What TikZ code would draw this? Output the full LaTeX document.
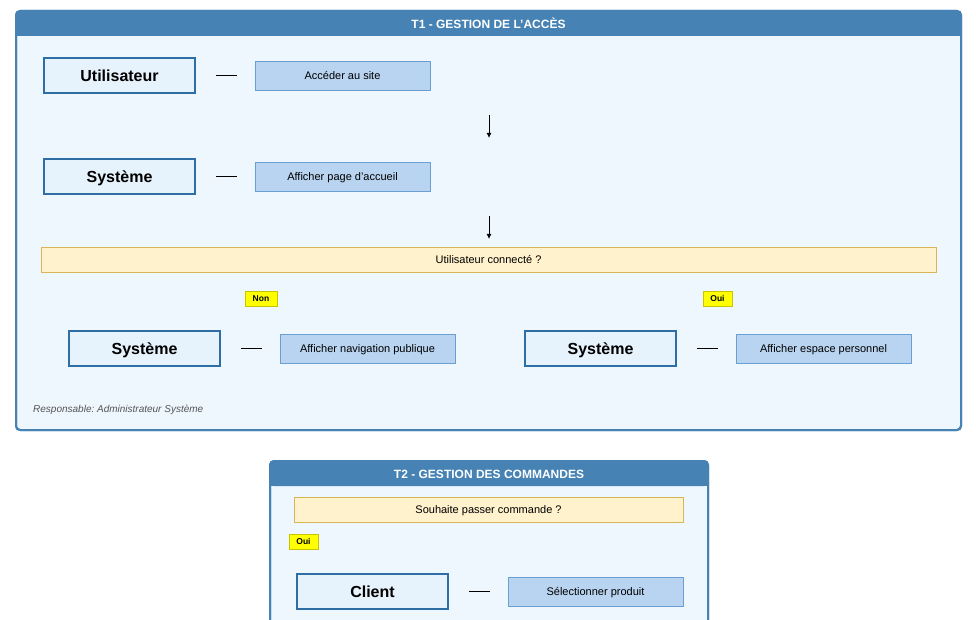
\documentclass[tikz,border=0pt]{standalone}
\usepackage{fontspec}
\setmainfont{Liberation Sans}
\usetikzlibrary{arrows.meta,calc}
\frenchspacing

\definecolor{hdr}{HTML}{4682B4}
\definecolor{panelbg}{HTML}{EEF6FE}
\definecolor{actorfill}{HTML}{E6F2FC}
\definecolor{actorline}{HTML}{2F6EA5}
\definecolor{actfill}{HTML}{B8D4F0}
\definecolor{actline}{HTML}{6A9FD2}
\definecolor{decfill}{HTML}{FFF2CC}
\definecolor{decline}{HTML}{D6B656}
\definecolor{tagfill}{HTML}{FFFF00}
\definecolor{tagline}{HTML}{C8C400}
\definecolor{note}{HTML}{555555}

\tikzset{
  panel/.style={fill=panelbg, draw=hdr, line width=2pt, rounded corners=4pt},
  paneltitle/.style={text=white, font=\bfseries\fontsize{12}{14}\selectfont, inner sep=0pt,
    text height=8.6pt, text depth=0pt},
  actor/.style={draw=actorline, line width=2pt, fill=actorfill, minimum width=151pt,
    minimum height=35pt, inner sep=0pt, text height=11.5pt, text depth=0pt,
    font=\bfseries\fontsize{16}{19}\selectfont},
  action/.style={draw=actline, line width=0.8pt, fill=actfill, minimum width=175pt,
    minimum height=29pt, inner sep=0pt, text height=7.2pt, text depth=0pt,
    font=\fontsize{11}{13}\selectfont},
  decision/.style={draw=decline, line width=0.8pt, fill=decfill, minimum height=25pt,
    inner sep=0pt, text height=7.2pt, text depth=0pt, font=\fontsize{11}{13}\selectfont},
  tag/.style={draw=tagline, line width=0.8pt, fill=tagfill, minimum height=15pt,
    inner sep=0pt, text height=6.1pt, text depth=0pt, font=\bfseries\fontsize{8.5}{10}\selectfont},
  link/.style={line width=0.9pt},
  flow/.style={line width=0.9pt, -{Latex[length=5pt,width=5pt]}},
}

\begin{document}
\begin{tikzpicture}[x=1pt,y=-1pt]
\useasboundingbox (0,0) rectangle (976,620);
\clip (0,0) rectangle (976,620);

% ---------- T1 panel ----------
\draw[panel] (16,11) rectangle (961,430);
\fill[hdr, rounded corners=4pt] (16,11) rectangle (961,36);
\fill[hdr] (16,26) rectangle (961,36);
\draw[hdr, line width=2pt, rounded corners=4pt] (16,11) rectangle (961,430);
\node[paneltitle] (t1) at (488.5,24) {T1 - GESTION DE L'ACCÈS};

% row 1
\node[actor]  (u1) at (119.5,75.5) {Utilisateur};
\node[action] (a1) at (342.5,75.5) {Accéder au site};
\draw[link] ($(u1.east)+(20,0)$) -- ($(a1.west)+(-18,0)$);

\coordinate (f1a) at (489,115);
\coordinate (f1b) at (489,138);
\draw[flow] (f1a) -- (f1b);

% row 2
\node[actor]  (s2) at (119.5,176.5) {Système};
\node[action] (a2) at (342.5,176.5) {Afficher page d'accueil};
\draw[link] ($(s2.east)+(20,0)$) -- ($(a2.west)+(-18,0)$);

\coordinate (f2a) at (489,216);
\coordinate (f2b) at (489,239);
\draw[flow] (f2a) -- (f2b);

% decision
\node[decision, minimum width=895pt] (d1) at (488.5,259.5) {Utilisateur connecté ?};
\node[tag, minimum width=32pt] (non) at (261,298.5) {Non};
\node[tag, minimum width=29pt] (oui) at (717.5,298.5) {Oui};

% branches
\node[actor]  (s3) at (144.5,348.5) {Système};
\node[action] (a3) at (367.5,348.5) {Afficher navigation publique};
\draw[link] ($(s3.east)+(20,0)$) -- ($(a3.west)+(-18,0)$);

\node[actor]  (s4) at (600.5,348.5) {Système};
\node[action] (a4) at (823.5,348.5) {Afficher espace personnel};
\draw[link] ($(s4.east)+(20,0)$) -- ($(a4.west)+(-18,0)$);

\node[anchor=west, inner sep=0pt, text=note, text height=7.2pt, text depth=0pt,
  font=\itshape\fontsize{10}{12}\selectfont]
  (resp) at (33,408.5) {Responsable: Administrateur Système};

% ---------- T2 panel ----------
\draw[panel] (270,461) rectangle (708,700);
\fill[hdr, rounded corners=4pt] (270,461) rectangle (708,486);
\fill[hdr] (270,476) rectangle (708,486);
\draw[hdr, line width=2pt, rounded corners=4pt] (270,461) rectangle (708,700);
\node[paneltitle] (t2) at (489,474) {T2 - GESTION DES COMMANDES};

\node[decision, minimum width=389pt] (d2) at (488.5,509.5) {Souhaite passer commande ?};
\node[tag, minimum width=29pt] (oui2) at (303.5,541.5) {Oui};

\node[actor]  (c1) at (372.5,591.5) {Client};
\node[action] (a5) at (595.5,591.5) {Sélectionner produit};
\draw[link] ($(c1.east)+(20,0)$) -- ($(a5.west)+(-18,0)$);
\end{tikzpicture}
\end{document}
